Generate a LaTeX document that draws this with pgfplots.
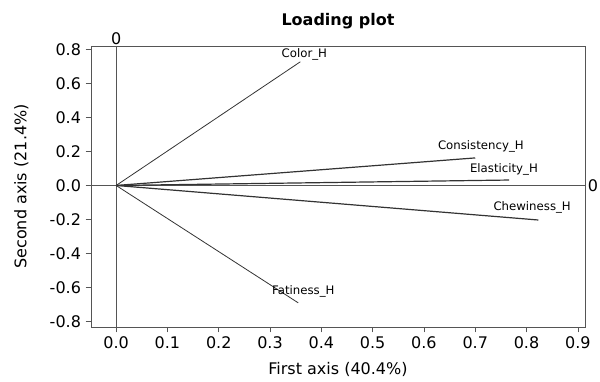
\documentclass[border=0pt]{standalone}
\usepackage{pgfplots}
\pgfplotsset{compat=1.18}
\usepackage{fontspec}
\setmainfont{DejaVu Sans}
\definecolor{axgray}{HTML}{555555}
\definecolor{vecgray}{HTML}{333333}
\begin{document}
\begin{tikzpicture}
\useasboundingbox (0pt,0pt) rectangle (450pt,286.5pt);
\begin{axis}[
  at={(68.25pt,41.25pt)}, anchor=south west,
  scale only axis, width=370.5pt, height=210.75pt,
  xmin=-0.049, xmax=0.914, ymin=-0.832, ymax=0.82,
  xtick={0,0.1,...,0.9}, ytick={-0.8,-0.6,...,0.8},
  xticklabel style={/pgf/number format/.cd,fixed,fixed zerofill,precision=1},
  yticklabel style={/pgf/number format/.cd,fixed,fixed zerofill,precision=1},
  /pgf/number format/assume math mode=true,
  tick align=outside, tick pos=left,
  major tick length=4pt,
  axis line style={axgray},
  every tick/.style={axgray},
  tick label style={font=\fontsize{12}{14}\selectfont},
  label style={font=\fontsize{12}{14}\selectfont},
  xlabel={First axis (40.4\%)},
  ylabel={Second axis (21.4\%)},
  xlabel style={yshift=-3pt},
  ylabel style={yshift=9pt},
  title={\textbf{Loading plot}},
  title style={font=\fontsize{12}{14}\selectfont, yshift=3pt},
  clip=false,
]
\draw[axgray] (axis cs:0,-0.832) -- (axis cs:0,0.82);
\draw[axgray] (axis cs:-0.049,0) -- (axis cs:0.914,0);
\node[font=\fontsize{12}{14}\selectfont, anchor=south, inner sep=1pt] at (axis cs:0,0.82) {0};
\node[font=\fontsize{12}{14}\selectfont, anchor=west, inner sep=2pt] at (axis cs:0.914,0) {0};
\addplot[vecgray, line width=0.6pt] coordinates {(0,0) (0.359,0.727)};
\addplot[vecgray, line width=0.6pt] coordinates {(0,0) (0.355,-0.690)};
\addplot[vecgray, line width=0.9pt] coordinates {(0,0) (0.700,0.162)};
\addplot[vecgray, line width=0.9pt] coordinates {(0,0) (0.766,0.032)};
\addplot[vecgray, line width=0.9pt] coordinates {(0,0) (0.823,-0.203)};
\node[font=\fontsize{8.8}{10}\selectfont] at (axis cs:0.367,0.772) {Color\_H};
\node[font=\fontsize{8.8}{10}\selectfont] at (axis cs:0.365,-0.622) {Fatiness\_H};
\node[font=\fontsize{8.8}{10}\selectfont] at (axis cs:0.711,0.232) {Consistency\_H};
\node[font=\fontsize{8.8}{10}\selectfont] at (axis cs:0.756,0.097) {Elasticity\_H};
\node[font=\fontsize{8.8}{10}\selectfont] at (axis cs:0.811,-0.132) {Chewiness\_H};
\end{axis}
\end{tikzpicture}
\end{document}
